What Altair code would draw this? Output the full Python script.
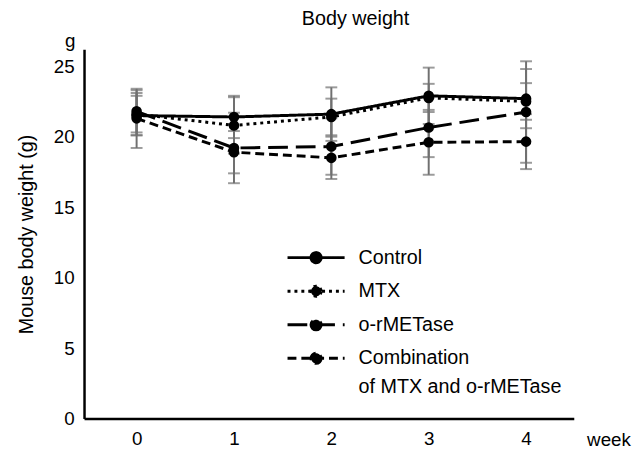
import altair as alt
import pandas as pd

weeks = [0, 1, 2, 3, 4]
groups = ["Control", "MTX", "o-rMETase", "Combination of MTX and o-rMETase"]

control_mean = [21.5, 21.4, 21.6, 22.9, 22.7]
control_sd = [1.4, 1.5, 1.9, 2.0, 2.1]
mtx_mean = [21.6, 20.8, 21.4, 22.75, 22.5]
mtx_sd = [1.5, 2.0, 1.3, 1.0, 1.3]
ormet_mean = [21.8, 19.2, 19.3, 20.65, 21.75]
ormet_sd = [1.5, 2.5, 2.0, 2.1, 3.6]
combo_mean = [21.3, 18.9, 18.5, 19.6, 19.65]
combo_sd = [2.1, 1.5, 1.5, 2.3, 1.95]

y_ticks = [0, 5, 10, 15, 20, 25]

means = [control_mean, mtx_mean, ormet_mean, combo_mean]
sds = [control_sd, mtx_sd, ormet_sd, combo_sd]

rows = []
for g, m, s in zip(groups, means, sds):
    for w, mi, si in zip(weeks, m, s):
        rows.append(dict(week=w, group=g, mean=mi, lo=mi - si, hi=mi + si))
df = pd.DataFrame(rows)

FONT = "Liberation Sans"

xscale = alt.Scale(domain=[-0.54, 4.49], nice=False, zero=False)
yscale = alt.Scale(domain=[0, 26.2], nice=False)

x_enc = alt.X("week:Q", scale=xscale,
              axis=alt.Axis(values=weeks, title="week", titleX=509, titleY=21,
                            titleAlign="left", titleBaseline="middle",
                            labelPadding=11, format="d"))
y_axis = alt.Axis(values=y_ticks, title="Mouse body weight (g)", labelPadding=10,
                  titlePadding=17, titleFontSize=20)

base = alt.Chart(df)

err_rule = base.mark_rule(color="#707070", strokeWidth=2).encode(
    x=x_enc, y=alt.Y("lo:Q", scale=yscale, axis=y_axis), y2="hi:Q")
err_top = base.mark_tick(orient="horizontal", size=12, thickness=2, color="#707070").encode(
    x=x_enc, y=alt.Y("hi:Q", scale=yscale))
err_bot = base.mark_tick(orient="horizontal", size=12, thickness=2, color="#707070").encode(
    x=x_enc, y=alt.Y("lo:Q", scale=yscale))

sym_path = "M-3.4,0H3.4M0.6,0A0.6,0.6,0,1,1,-0.6,0A0.6,0.6,0,1,1,0.6,0Z"

lines = base.mark_line(color="black", strokeWidth=3).encode(
    x=x_enc,
    y=alt.Y("mean:Q", scale=yscale),
    strokeDash=alt.StrokeDash(
        "group:N",
        scale=alt.Scale(domain=groups, range=[[1, 0], [3, 4], [20, 8], [9, 5]]),
        legend=alt.Legend(
            title=None, orient="none", legendX=225, legendY=201,
            symbolType=sym_path, symbolSize=289, symbolStrokeWidth=3,
            symbolStrokeColor="black", symbolFillColor="black",
            labelFontSize=20, labelFont=FONT, labelColor="black",
            labelOffset=33, rowPadding=10, padding=0, labelLimit=400,
            labelExpr="datum.label == 'Combination of MTX and o-rMETase' ? ['Combination', 'of MTX and o-rMETase'] : datum.label",
        ),
    ),
    detail="group:N",
)

points = base.mark_point(filled=True, size=115, color="black", opacity=1).encode(
    x=x_enc, y=alt.Y("mean:Q", scale=yscale), detail="group:N")

g_label = alt.Chart(pd.DataFrame({"t": ["g"]})).mark_text(
    fontSize=19, font=FONT, color="black", align="center", baseline="middle"
).encode(text="t:N", x=alt.value(-14), y=alt.value(-8))

chart = alt.layer(err_rule, err_top, err_bot, lines, points, g_label).properties(
    width=496, height=374,
    autosize=alt.AutoSizeParams(type="none"),
    padding={"left": 77, "top": 39, "right": 62, "bottom": 30},
    title=alt.Title("Body weight", fontSize=20, font=FONT, fontWeight="normal",
                    color="black", dx=27, offset=4),
).configure(
    view=alt.ViewConfig(stroke=None),
    axis=alt.AxisConfig(
        domainColor="black", domainWidth=2.5, ticks=False, grid=False,
        labelFont=FONT, labelFontSize=19, labelColor="black",
        titleFont=FONT, titleFontSize=19, titleFontWeight="normal", titleColor="black",
    ),
    style={"guide-label": {"lineHeight": 29}},
)

chart.save("out.html", embed_options={"renderer": "svg", "actions": False})
